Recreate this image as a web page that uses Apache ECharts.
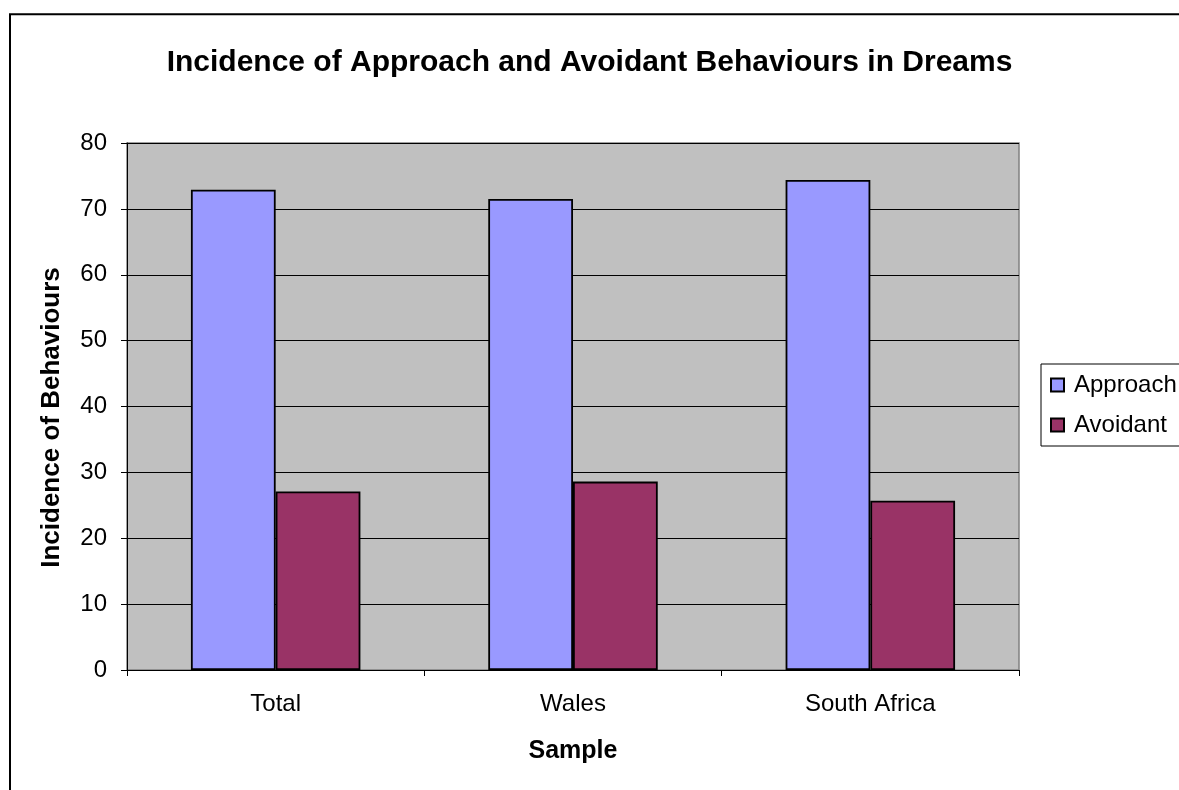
<!DOCTYPE html>
<html>
<head>
<meta charset="utf-8">
<script src="https://cdn.jsdelivr.net/npm/echarts@6/dist/echarts.min.js"></script>
<style>
html,body{margin:0;padding:0;background:#fff;}
#chart{width:1179px;height:790px;}
</style>
</head>
<body>
<div id="chart"></div>
<script>
const categories = ['Total', 'Wales', 'South Africa'];
const approach = [72.9, 71.5, 74.4];
const avoidant = [27.1, 28.6, 25.7];
const seriesNames = ['Approach', 'Avoidant'];
const titleText = 'Incidence of Approach and Avoidant Behaviours in Dreams';
const yName = 'Incidence of Behaviours';
const xName = 'Sample';

const font = 'Liberation Sans, Arial, sans-serif';
const chart = echarts.init(document.getElementById('chart'));
chart.setOption({
  backgroundColor: '#ffffff',
  animation: false,
  title: {
    text: titleText,
    left: 'center',
    top: 43,
    textStyle: { fontFamily: font, fontSize: 30, fontWeight: 'bold', color: '#000' }
  },
  graphic: [{
    type: 'rect',
    shape: { x: 10, y: 14.3, width: 1300, height: 900 },
    style: { fill: 'none', stroke: '#000', lineWidth: 2 },
    silent: true, z: 100
  }],
  legend: {
    orient: 'vertical',
    left: 1041,
    top: 364,
    padding: [9, 12, 9, 9],
    itemGap: 16,
    itemWidth: 13,
    itemHeight: 13,
    icon: 'rect',
    backgroundColor: '#fff',
    borderColor: '#000',
    borderWidth: 1,
    textStyle: { fontFamily: font, fontSize: 24, color: '#000', padding: [0, 0, 0, 5] },
    data: seriesNames
  },
  grid: {
    left: 127, right: 160, top: 143, bottom: 120,
    show: true, backgroundColor: '#c0c0c0', borderColor: '#808080', borderWidth: 1.5
  },
  xAxis: {
    type: 'category',
    data: categories,
    name: xName,
    nameLocation: 'middle',
    nameGap: 69,
    nameTextStyle: { fontFamily: font, fontSize: 25, fontWeight: 'bold', color: '#000' },
    axisLine: { lineStyle: { color: '#000', width: 1 } },
    axisTick: { show: true, inside: false, length: 6, alignWithLabel: false, lineStyle: { color: '#000' } },
    axisLabel: { fontFamily: font, fontSize: 24, color: '#000', margin: 22 }
  },
  yAxis: {
    type: 'value',
    min: 0, max: 80, interval: 10,
    name: yName,
    nameLocation: 'middle',
    nameGap: 62,
    nameTextStyle: { fontFamily: font, fontSize: 26, fontWeight: 'bold', color: '#000', padding: [0, 22, 0, 0] },
    axisLine: { show: true, lineStyle: { color: '#000', width: 1 } },
    axisTick: { show: true, inside: false, length: 6, lineStyle: { color: '#000' } },
    axisLabel: { fontFamily: font, fontSize: 24, color: '#000', margin: 20 },
    splitLine: { show: true, lineStyle: { color: '#000', width: 1 } }
  },
  series: [
    {
      name: seriesNames[0], type: 'bar', data: approach,
      barGap: '0%', barCategoryGap: '43%',
      itemStyle: { color: '#9999ff', borderColor: '#000', borderWidth: 1.8 }
    },
    {
      name: seriesNames[1], type: 'bar', data: avoidant,
      barGap: '0%', barCategoryGap: '43%',
      itemStyle: { color: '#993366', borderColor: '#000', borderWidth: 1.8 }
    }
  ]
});
</script>
</body>
</html>
